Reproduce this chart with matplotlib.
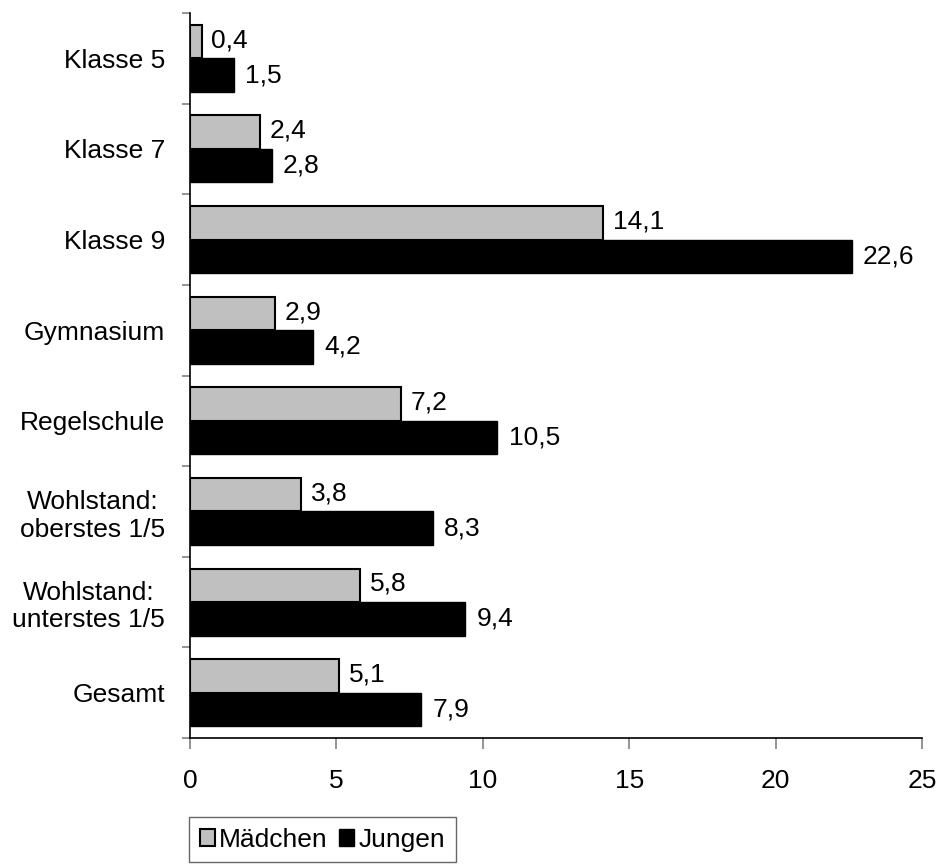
import matplotlib
matplotlib.use("Agg")
import matplotlib.pyplot as plt
from matplotlib.patches import Patch
from matplotlib.ticker import FixedLocator

plt.rcParams['font.family'] = ['Liberation Sans', 'DejaVu Sans']

categories = ["Klasse 5", "Klasse 7", "Klasse 9", "Gymnasium", "Regelschule",
              "Wohlstand:\noberstes 1/5", "Wohlstand:\nunterstes 1/5", "Gesamt"]
maedchen = [0.4, 2.4, 14.1, 2.9, 7.2, 3.8, 5.8, 5.1]
jungen = [1.5, 2.8, 22.6, 4.2, 10.5, 8.3, 9.4, 7.9]
x_ticks = [0, 5, 10, 15, 20, 25]

FS = 19

fig = plt.figure(figsize=(9.39, 8.64), dpi=100)
ax = fig.add_axes([190 / 939, 1 - 738 / 864, (922 - 190) / 939, (738 - 13) / 864])

h = 0.37
pos = list(range(len(categories)))
ax.barh([p - h / 2 for p in pos], maedchen, height=h, color="#c0c0c0",
        edgecolor="black", linewidth=1.5, label="Mädchen")
ax.barh([p + h / 2 for p in pos], jungen, height=h, color="black",
        edgecolor="black", linewidth=1.0, label="Jungen")

for p, v in zip(pos, maedchen):
    ax.annotate(f"{v:.1f}".replace(".", ","), (v, p - h / 2), xytext=(7, 1),
                textcoords="offset points", va="center", ha="left", fontsize=FS)
for p, v in zip(pos, jungen):
    ax.annotate(f"{v:.1f}".replace(".", ","), (v, p + h / 2), xytext=(8, 0),
                textcoords="offset points", va="center", ha="left", fontsize=FS)

ax.set_xlim(0, 25)
ax.set_ylim(len(categories) - 0.5, -0.5)
ax.set_xticks(x_ticks)
ax.set_xticklabels([str(t) for t in x_ticks], fontsize=FS)
ax.set_yticks(pos)
ax.set_yticklabels(categories, fontsize=FS, multialignment="center")
ax.yaxis.set_minor_locator(FixedLocator([p - 0.5 for p in pos] + [len(pos) - 0.5]))

ax.tick_params(axis="y", which="major", length=0, pad=18)
ax.tick_params(axis="y", which="minor", length=6, color="#808080", width=1.2)
ax.tick_params(axis="x", which="major", length=8, color="#808080", width=1.2, pad=14)

for s in ["top", "right"]:
    ax.spines[s].set_visible(False)
for s in ["left", "bottom"]:
    ax.spines[s].set_linewidth(1.2)
    ax.spines[s].set_color("black")

handles = [Patch(facecolor="#c0c0c0", edgecolor="black", linewidth=1.5, label="Mädchen"),
           Patch(facecolor="black", edgecolor="black", label="Jungen")]
leg = fig.legend(handles=handles, loc="upper left",
                 bbox_to_anchor=(189 / 939, 1 - 817 / 864), ncol=2, fontsize=FS,
                 frameon=True, fancybox=False, handlelength=0.6, handleheight=0.6,
                 handletextpad=0.15, columnspacing=0.4, borderpad=0.4,
                 borderaxespad=0)
leg.get_frame().set_edgecolor("#404040")
leg.get_frame().set_linewidth(1.0)

fig.savefig("out.png", dpi=100)
